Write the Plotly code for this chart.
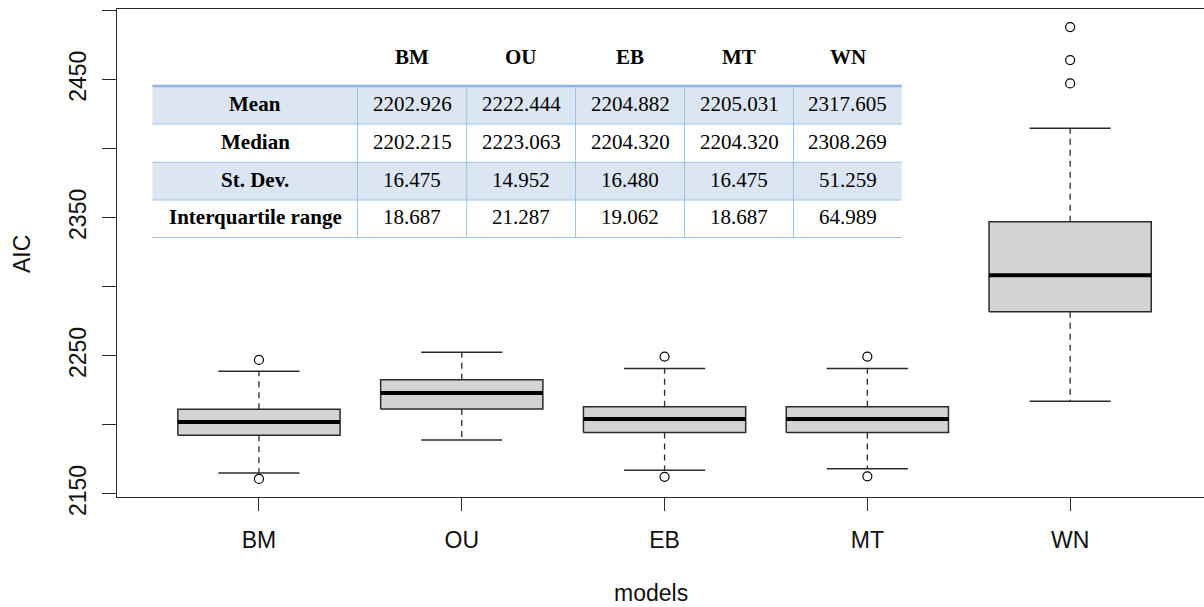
import plotly.graph_objects as go

# ---------------- data ----------------
models = ["BM", "OU", "EB", "MT", "WN"]
q1 = [2192.6, 2211.5, 2194.6, 2194.6, 2281.9]
medians = [2202.2, 2223.1, 2204.3, 2204.3, 2308.3]
q3 = [2211.3, 2232.8, 2213.1, 2213.1, 2347.2]
lower_whisker = [2165.2, 2189.1, 2167.1, 2168.3, 2217.2]
upper_whisker = [2238.9, 2252.6, 2240.8, 2240.8, 2414.8]

outlier_model = ["BM", "BM", "EB", "EB", "MT", "MT", "WN", "WN", "WN"]
outlier_value = [2247.1, 2160.9, 2249.5, 2162.4, 2249.5, 2162.8, 2488.1, 2464.2, 2447.3]

y_tick_vals = [2150, 2200, 2250, 2300, 2350, 2400, 2450, 2500]
y_tick_text = ["2150", "", "2250", "", "2350", "", "2450", ""]

# summary table
table_cols = ["BM", "OU", "EB", "MT", "WN"]
row_labels = ["Mean", "Median", "St. Dev.", "Interquartile range"]
mean_vals = ["2202.926", "2222.444", "2204.882", "2205.031", "2317.605"]
median_vals = ["2202.215", "2223.063", "2204.320", "2204.320", "2308.269"]
sd_vals = ["16.475", "14.952", "16.480", "16.475", "51.259"]
iqr_vals = ["18.687", "21.287", "19.062", "18.687", "64.989"]

# ---------------- figure ----------------
W, H = 1204, 607
ML, MR, MT_, MB = 117, 0, 9, 110
PW, PH = W - ML - MR, H - MT_ - MB

fig = go.Figure()
HB = 0.4   # half box width
HS = 0.2   # half staple width
dark = "#2b2b2b"

for i, m in enumerate(models):
    xc = i + 1
    # dashed whiskers
    fig.add_trace(go.Scatter(
        x=[xc, xc, None, xc, xc],
        y=[q3[i], upper_whisker[i], None, q1[i], lower_whisker[i]],
        mode="lines", line=dict(color=dark, width=1.3, dash="6px,5px"),
        hoverinfo="skip", showlegend=False))
    # staples
    fig.add_trace(go.Scatter(
        x=[xc - HS, xc + HS, None, xc - HS, xc + HS],
        y=[upper_whisker[i], upper_whisker[i], None, lower_whisker[i], lower_whisker[i]],
        mode="lines", line=dict(color=dark, width=1.5),
        hoverinfo="skip", showlegend=False))
    # box
    fig.add_trace(go.Scatter(
        x=[xc - HB, xc + HB, xc + HB, xc - HB, xc - HB],
        y=[q1[i], q1[i], q3[i], q3[i], q1[i]],
        mode="lines", fill="toself", fillcolor="#D3D3D3",
        line=dict(color=dark, width=1.5),
        hoverinfo="skip", showlegend=False))
    # median
    fig.add_trace(go.Scatter(
        x=[xc - HB, xc + HB], y=[medians[i], medians[i]],
        mode="lines", line=dict(color="black", width=4),
        hoverinfo="skip", showlegend=False))

fig.add_trace(go.Scatter(
    x=[models.index(m) + 1 for m in outlier_model], y=outlier_value,
    mode="markers",
    marker=dict(symbol="circle-open", size=9, color="black", line=dict(width=1.2)),
    hoverinfo="skip", showlegend=False))

# ---------------- table overlay (pixel layout -> paper coords) ----------------
def px(xp):
    return (xp - ML) / PW

def py(yp):
    return (H - MB - yp) / PH

col_edges = [152.5, 357.5, 466.7, 575.5, 684.5, 793.5, 901.7]
row_edges = [86, 124, 162.3, 200, 237.5]
header_y = 56.5
fill_col = "rgb(220,230,242)"
line_col = "rgb(157,195,230)"

shapes = []
for r in (0, 2):
    shapes.append(dict(type="rect", xref="paper", yref="paper",
                       x0=px(col_edges[0]), x1=px(col_edges[-1]),
                       y0=py(row_edges[r + 1]), y1=py(row_edges[r]),
                       fillcolor=fill_col, line=dict(width=0), layer="above"))
for yy in row_edges[1:]:
    shapes.append(dict(type="line", xref="paper", yref="paper",
                       x0=px(col_edges[0]), x1=px(col_edges[-1]),
                       y0=py(yy), y1=py(yy),
                       line=dict(color=line_col, width=1), layer="above"))
for xx in col_edges[1:-1]:
    shapes.append(dict(type="line", xref="paper", yref="paper",
                       x0=px(xx), x1=px(xx),
                       y0=py(row_edges[0]), y1=py(row_edges[-1]),
                       line=dict(color=line_col, width=1), layer="above"))
shapes.append(dict(type="line", xref="paper", yref="paper",
                   x0=px(col_edges[0]), x1=px(col_edges[-1]),
                   y0=py(row_edges[0]), y1=py(row_edges[0]),
                   line=dict(color="rgb(141,180,226)", width=2.5), layer="above"))

serif = "Liberation Serif"
annotations = []
for j, c in enumerate(table_cols):
    xc = (col_edges[j + 1] + col_edges[j + 2]) / 2
    annotations.append(dict(x=px(xc), y=py(header_y), xref="paper", yref="paper",
                            text="<b>%s</b>" % c, showarrow=False,
                            xanchor="center", yanchor="middle",
                            font=dict(family=serif, size=21, color="black")))
rows = [mean_vals, median_vals, sd_vals, iqr_vals]
for r, lab in enumerate(row_labels):
    yc = (row_edges[r] + row_edges[r + 1]) / 2 - 1.5
    annotations.append(dict(x=px((col_edges[0] + col_edges[1]) / 2), y=py(yc),
                            xref="paper", yref="paper",
                            text="<b>%s</b>" % lab, showarrow=False,
                            xanchor="center", yanchor="middle",
                            font=dict(family=serif, size=21, color="black")))
    for j, v in enumerate(rows[r]):
        xc = (col_edges[j + 1] + col_edges[j + 2]) / 2
        annotations.append(dict(x=px(xc), y=py(yc), xref="paper", yref="paper",
                                text=v, showarrow=False,
                                xanchor="center", yanchor="middle",
                                font=dict(family=serif, size=21, color="black")))

# axis titles
sans = "Liberation Sans"
annotations.append(dict(x=px(651), y=py(593), xref="paper", yref="paper",
                        text="models", showarrow=False, xanchor="center", yanchor="middle",
                        font=dict(family=sans, size=23, color="#111")))
annotations.append(dict(x=px(22), y=py(254), xref="paper", yref="paper",
                        text="AIC", showarrow=False, xanchor="center", yanchor="middle",
                        textangle=-90,
                        font=dict(family=sans, size=23, color="#111")))

fig.update_layout(
    width=W, height=H,
    margin=dict(l=ML, r=MR, t=MT_, b=MB, pad=0),
    paper_bgcolor="white", plot_bgcolor="white",
    showlegend=False,
    shapes=shapes, annotations=annotations,
    font=dict(family=sans, color="#111"),
    xaxis=dict(range=[0.3, 5.66], tickmode="array", tickvals=[1, 2, 3, 4, 5],
               ticktext=models, ticks="outside", ticklen=13, tickwidth=1.3,
               tickcolor=dark, showline=True, linecolor=dark, linewidth=1.3,
               mirror=True, showgrid=False, zeroline=False,
               tickfont=dict(family=sans, size=23, color="#111"),
               ticklabelstandoff=9),
    yaxis=dict(range=[2147.8, 2501.2], tickmode="array", tickvals=y_tick_vals,
               ticktext=y_tick_text, tickangle=-90, ticks="outside", ticklen=14,
               tickwidth=1.3, tickcolor=dark, showline=True, linecolor=dark,
               linewidth=1.3, mirror=False, showgrid=False, zeroline=False,
               tickfont=dict(family=sans, size=23, color="#111"),
               ticklabelstandoff=7),
)

fig.write_html(
    "out.html",
    config={"displayModeBar": False},
    post_script="document.body.style.margin='0';document.body.style.overflow='hidden';",
)
